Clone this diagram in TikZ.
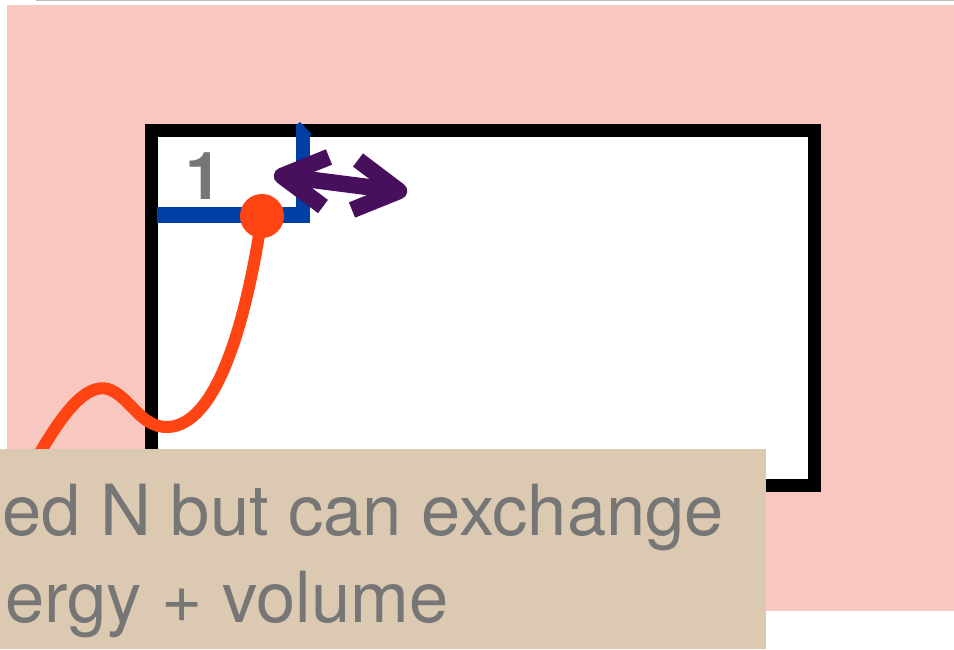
\documentclass[tikz,border=0pt]{standalone}
\usepackage{fontspec}
\setmainfont{TeX Gyre Heros}
\definecolor{pinkbg}{HTML}{F8C7C0}
\definecolor{beigebg}{HTML}{DBCAB1}
\definecolor{greytxt}{HTML}{767676}
\definecolor{orng}{HTML}{FF4414}
\definecolor{bluebar}{HTML}{0040A5}
\definecolor{purp}{HTML}{480F5C}
\definecolor{topgrey}{HTML}{BBBBBB}
\begin{document}
\begin{tikzpicture}[x=1pt,y=-1pt,
  framebox/.style={draw=black, line width=13pt, fill=white, minimum width=663pt, minimum height=355pt, inner sep=0pt},
  bluestroke/.style={draw=bluebar, line cap=butt},
  purpstroke/.style={draw=purp, line width=16.5pt, line join=round, line cap=butt},
  orangestroke/.style={draw=orng, line width=12pt},
  orangedot/.style={circle, fill=orng, minimum size=44pt, inner sep=0pt},
  numlabel/.style={text=greytxt, font=\fontsize{66}{70}\selectfont\bfseries, inner sep=0pt, anchor=base},
  captxt/.style={text=greytxt, font=\fontsize{70.5}{80}\selectfont, inner sep=0pt, anchor=base west}]
\useasboundingbox (0,0) rectangle (954,649);
% background
\fill[pinkbg] (7,5) rectangle (954,611);
\draw[topgrey, line width=1.3pt] (36,0.8) -- (954,0.8);
% container
\node[framebox] (box) at (482.5,307.5) {};
% blue L with small tip
\coordinate (bl) at (157,215);
\coordinate (br) at (310,215);
\coordinate (bb) at (303,223);
\coordinate (bt) at (303,134);
\draw[bluestroke, line width=16pt] (bl) -- (br);
\draw[bluestroke, line width=14pt] (bb) -- (bt);
\fill[bluebar] (296,136) -- (296,125) -- (300,122) -- (311.5,134) -- (310,136) -- cycle;
% label 1
\node[numlabel] (one) at (203.5,199) {1};
% purple double arrow
\coordinate (pl) at (282,176);
\coordinate (pr) at (399,191);
\coordinate (ul) at (329,157);
\coordinate (ll) at (323,206.5);
\coordinate (ur) at (358,160);
\coordinate (lr) at (352,210);
\draw[purpstroke] (pl) -- (pr);
\draw[purpstroke] (ul) -- (pl) -- (ll);
\draw[purpstroke] (ur) -- (pr) -- (lr);
% orange curve and dot
\coordinate (tail) at (38,456);
\coordinate (dotc) at (262,216);
\draw[orangestroke] (tail) .. controls (62,415) and (85,383) .. (108,389)
  .. controls (130,396) and (140,428) .. (168,427)
  .. controls (215,425) and (245,330) .. (dotc);
\node[orangedot] (dot) at (dotc) {};
% caption box
\fill[beigebg] (0,449) rectangle (766,649);
\node[captxt] (line1) at (2.2,535) {ed N but can exchange};
\node[captxt] (line2) at (5.2,622) {ergy + volume};
\end{tikzpicture}
\end{document}
